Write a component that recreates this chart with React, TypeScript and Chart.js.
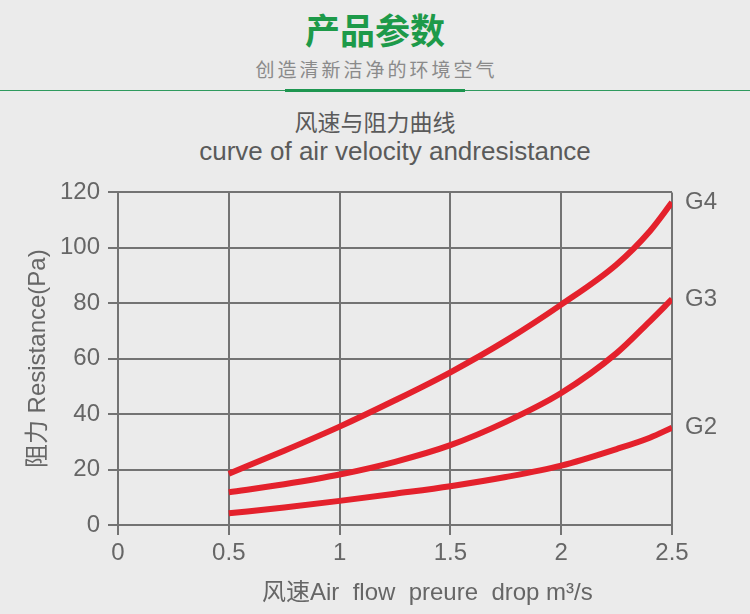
import React, { useEffect, useRef } from "react";
import { Chart, registerables } from "chart.js";

Chart.register(...registerables);

const FONT = "'Liberation Sans', 'Noto Sans CJK SC', Arial, sans-serif";

// Data
const airflow = [0.5, 0.75, 1, 1.25, 1.5, 1.75, 2, 2.25, 2.4, 2.5];
const g4Resistance = [18.5, 26.8, 35.5, 45, 55.1, 66.5, 79.5, 94, 106, 116.4];
const g3Resistance = [11.8, 14.7, 18.2, 22.8, 28.8, 37.2, 47.6, 62, 73.5, 81.5];
const g2Resistance = [4.2, 6.3, 8.7, 11.3, 14, 17.3, 21.4, 27.4, 31.5, 35.1];
const seriesLabels = ["G4", "G3", "G2"];
const xTicks = [0, 0.5, 1, 1.5, 2, 2.5];
const yTicks = [0, 20, 40, 60, 80, 100, 120];

const GRID = "#737373";
const TEXT = "#666666";
const RED = "#e4212c";

const endLabels = {
  id: "endLabels",
  afterDatasetsDraw(chart: any) {
    const ctx = chart.ctx;
    ctx.save();
    ctx.font = `24px ${FONT}`;
    ctx.fillStyle = TEXT;
    ctx.textAlign = "left";
    ctx.textBaseline = "middle";
    chart.data.datasets.forEach((ds: any, i: number) => {
      const meta = chart.getDatasetMeta(i);
      const pt = meta.data[meta.data.length - 1];
      if (pt) ctx.fillText(ds.label, pt.x + 13, pt.y);
    });
    ctx.restore();
  },
};

export default function App() {
  const ref = useRef<HTMLCanvasElement | null>(null);

  useEffect(() => {
    if (!ref.current) return;
    const mk = (ys: number[]) => airflow.map((x, i) => ({ x, y: ys[i] }));
    const series = [g4Resistance, g3Resistance, g2Resistance];
    const chart = new Chart(ref.current, {
      type: "line",
      data: {
        datasets: series.map((ys, i) => ({
          label: seriesLabels[i],
          data: mk(ys),
          borderColor: RED,
          backgroundColor: RED,
          borderWidth: 6,
          pointRadius: 0,
          cubicInterpolationMode: "monotone" as const,
          fill: false,
          borderCapStyle: "butt" as const,
        })),
      },
      options: {
        animation: false,
        responsive: false,
        maintainAspectRatio: false,
        layout: { padding: { top: 19, right: 78, bottom: 0, left: 0 } },
        plugins: {
          legend: { display: false },
          tooltip: { enabled: false },
        },
        scales: {
          x: {
            type: "linear",
            min: 0,
            max: 2.5,
            afterBuildTicks: (scale: any) => {
              scale.ticks = xTicks.map((v) => ({ value: v }));
            },
            afterFit: (scale: any) => {
              scale.height = 89;
            },
            ticks: {
              color: TEXT,
              font: { family: FONT, size: 24 },
              padding: 4,
              maxRotation: 0,
              autoSkip: false,
              callback: (v: any) => String(v),
            },
            grid: { color: GRID, lineWidth: 2, tickLength: 10, drawTicks: true },
            border: { display: true, color: GRID, width: 2 },
            title: { display: false },
          },
          y: {
            type: "linear",
            min: 0,
            max: 120,
            afterBuildTicks: (scale: any) => {
              scale.ticks = yTicks.map((v) => ({ value: v }));
            },
            afterFit: (scale: any) => {
              scale.width = 118;
            },
            ticks: {
              color: TEXT,
              font: { family: FONT, size: 24 },
              padding: 8,
              autoSkip: false,
              callback: (v: any) => String(v),
            },
            grid: { color: GRID, lineWidth: 2, tickLength: 10, drawTicks: true },
            border: { display: true, color: GRID, width: 2 },
            title: {
              display: true,
              text: "阻力 Resistance(Pa)",
              color: TEXT,
              font: { family: FONT, size: 24 },
              padding: { top: 24, bottom: 0 },
            },
          },
        },
      },
      plugins: [endLabels],
    } as any);
    return () => chart.destroy();
  }, []);

  return (
    <div
      style={{
        position: "absolute",
        left: 0,
        top: 0,
        width: 750,
        height: 614,
        background: "#ebebeb",
        overflow: "hidden",
        fontFamily: FONT,
      }}
    >
      <div
        style={{
          position: "absolute",
          top: 12,
          left: 0,
          width: 750,
          textAlign: "center",
          fontSize: 35,
          lineHeight: "40px",
          fontWeight: 700,
          color: "#1d9a49",
        }}
      >
        产品参数
      </div>
      <div
        style={{
          position: "absolute",
          top: 59,
          left: 0,
          width: 750,
          textAlign: "center",
          fontSize: 19,
          lineHeight: "24px",
          letterSpacing: 3,
          paddingLeft: 3,
          boxSizing: "border-box",
          color: "#8a8a8a",
        }}
      >
        创造清新洁净的环境空气
      </div>
      <div style={{ position: "absolute", top: 90, left: 0, width: 750, height: 1, background: "#2f9a5e" }} />
      <div style={{ position: "absolute", top: 89, left: 285, width: 180, height: 3, background: "#1e9650" }} />
      <div
        style={{
          position: "absolute",
          top: 109,
          left: 0,
          width: 750,
          textAlign: "center",
          fontSize: 23,
          lineHeight: "28px",
          color: "#5a5a5a",
        }}
      >
        风速与阻力曲线
      </div>
      <div
        style={{
          position: "absolute",
          top: 136,
          left: 0,
          width: 790,
          textAlign: "center",
          fontSize: 26,
          lineHeight: "30px",
          color: "#5a5a5a",
        }}
      >
        curve of air velocity andresistance
      </div>
      <canvas
        ref={ref}
        width={750}
        height={444}
        style={{ position: "absolute", left: 0, top: 170, width: 750, height: 444 }}
      />
      <div
        style={{
          position: "absolute",
          top: 578,
          left: 262,
          fontSize: 24,
          lineHeight: "28px",
          whiteSpace: "pre",
          color: TEXT,
        }}
      >
        风速Air  flow  preure  drop m³/s
      </div>
    </div>
  );
}
